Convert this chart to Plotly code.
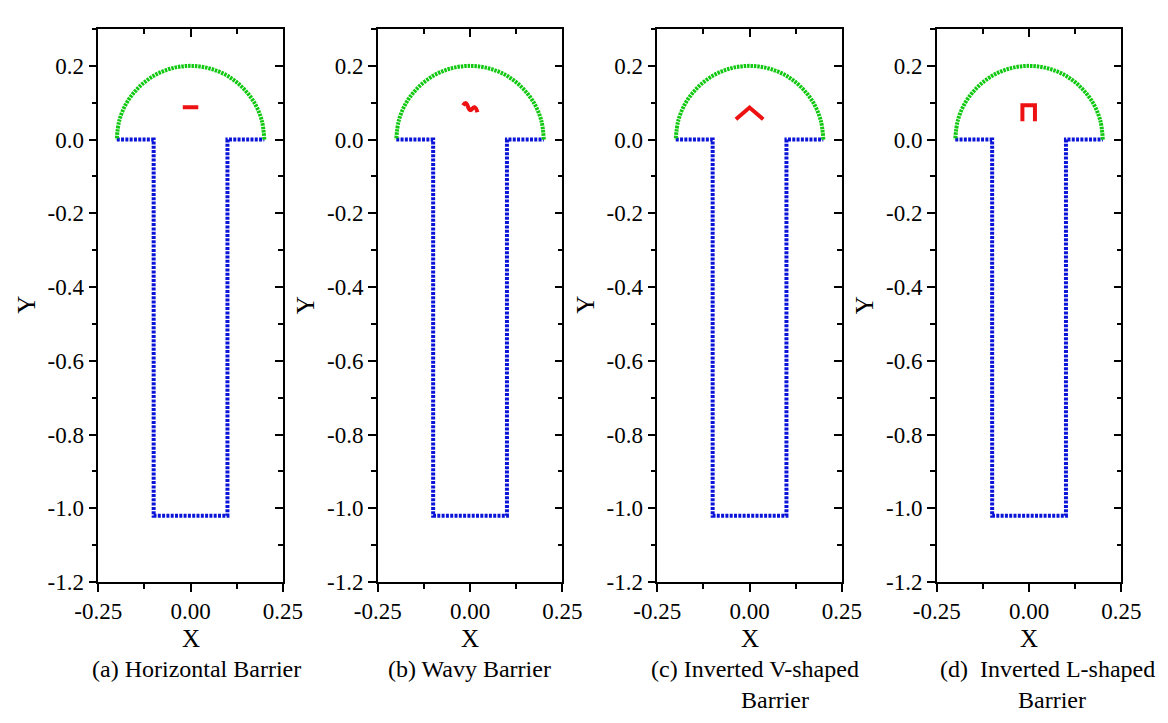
import plotly.graph_objects as go

# ---------------- data ----------------
# wall (blue) boundary vertices
wall_x = [-0.2, -0.1, -0.1, 0.1, 0.1, 0.2]
wall_y = [0.0, 0.0, -1.02, -1.02, 0.0, 0.0]
# free-surface dome (green) points, read along the semicircle
dome_x = [0.2, 0.193, 0.173, 0.141, 0.1, 0.052, 0.0, -0.052, -0.1, -0.141, -0.173, -0.193, -0.2]
dome_y = [0.0, 0.052, 0.1, 0.141, 0.173, 0.193, 0.2, 0.193, 0.173, 0.141, 0.1, 0.052, 0.0]
# barriers (red)
barrier_a_x = [-0.021, 0.021]
barrier_a_y = [0.088, 0.088]
barrier_b_x = [-0.019, -0.011, 0.0, 0.012, 0.020]
barrier_b_y = [0.093, 0.099, 0.080, 0.088, 0.074]
barrier_c_x = [-0.037, 0.0, 0.037]
barrier_c_y = [0.055, 0.087, 0.055]
barrier_d_x = [-0.018, -0.018, 0.016, 0.016]
barrier_d_y = [0.050, 0.093, 0.093, 0.050]
barriers = [(barrier_a_x, barrier_a_y, "spline"), (barrier_b_x, barrier_b_y, "spline"),
            (barrier_c_x, barrier_c_y, "linear"), (barrier_d_x, barrier_d_y, "linear")]

x_tickvals = [-0.25, 0.0, 0.25]
x_ticktext = ["-0.25", "0.00", "0.25"]
y_tickvals = [-1.2, -1.0, -0.8, -0.6, -0.4, -0.2, 0.0, 0.2]
y_ticktext = ["-1.2", "-1.0", "-0.8", "-0.6", "-0.4", "-0.2", "0.0", "0.2"]

captions_1 = ["(a) Horizontal Barrier", "(b) Wavy Barrier", "(c) Inverted V-shaped", "(d)  Inverted L-shaped"]
captions_2 = ["", "", "Barrier", "Barrier"]

# ---------------- layout geometry ----------------
W, H = 1168, 723
panel_left = [98.3, 377.8, 657.3, 936.8]
panel_w = 184.5
top_px, bot_px = 29, 582
cap1_cx = [196, 469, 755, 1047]
cap2_cx = [None, None, 775, 1052]

FONT = "Liberation Serif, Times New Roman, serif"
BLUE = "#0a14d8"
GREEN = "#11c811"
RED = "#ee1111"

fig = go.Figure()
ydom = [1 - bot_px / H, 1 - top_px / H]

annotations = []
for i in range(4):
    n = i + 1
    xa = "x" if n == 1 else f"x{n}"
    ya = "y" if n == 1 else f"y{n}"
    m = n + 4
    fig.add_trace(go.Scatter(x=wall_x, y=wall_y, mode="lines", xaxis=xa, yaxis=ya,
                             line=dict(color=BLUE, width=4, dash="3px,1.3px"),
                             showlegend=False, hoverinfo="skip"))
    fig.add_trace(go.Scatter(x=dome_x, y=dome_y, mode="lines", xaxis=xa, yaxis=ya,
                             line=dict(color=GREEN, width=4, dash="2.5px,0.9px", shape="spline"),
                             showlegend=False, hoverinfo="skip"))
    bx, by, shp = barriers[i]
    fig.add_trace(go.Scatter(x=bx, y=by, mode="lines", xaxis=xa, yaxis=ya,
                             line=dict(color=RED, width=4, shape=shp, smoothing=1.3),
                             showlegend=False, hoverinfo="skip"))
    # invisible trace so the mirrored (top/right) frame axes get drawn
    fig.add_trace(go.Scatter(x=wall_x, y=wall_y, mode="lines", xaxis=f"x{m}", yaxis=f"y{m}",
                             line=dict(width=0, color="rgba(0,0,0,0)"),
                             showlegend=False, hoverinfo="skip"))

    xdom = [panel_left[i] / W, (panel_left[i] + panel_w) / W]
    common = dict(showline=True, linecolor="black", linewidth=1.5, showgrid=False,
                  zeroline=False, tickcolor="black", tickwidth=1.5, automargin=False)
    tf = dict(tickfont=dict(family=FONT, size=23, color="black"))
    xkey = "xaxis" if n == 1 else f"xaxis{n}"
    ykey = "yaxis" if n == 1 else f"yaxis{n}"
    fig.layout[xkey] = dict(domain=xdom, anchor=ya, range=[-0.25, 0.25],
                            tickmode="array", tickvals=x_tickvals, ticktext=x_ticktext,
                            ticks="outside", ticklen=8,
                            minor=dict(tick0=0, dtick=0.125, ticks="outside", ticklen=5,
                                       tickcolor="black", tickwidth=1.5),
                            **common, **tf)
    fig.layout[ykey] = dict(domain=ydom, anchor=xa, range=[-1.2, 0.3],
                            tickmode="array", tickvals=y_tickvals, ticktext=y_ticktext,
                            ticks="outside", ticklen=8,
                            minor=dict(tick0=0, dtick=0.1, ticks="outside", ticklen=5,
                                       tickcolor="black", tickwidth=1.5),
                            **common, **tf)
    # mirrored frame with inward ticks (top / right)
    fig.layout[f"xaxis{m}"] = dict(overlaying=xa, anchor=f"y{m}", side="top", range=[-0.25, 0.25],
                                   tickmode="array", tickvals=x_tickvals, showticklabels=False,
                                   ticks="inside", ticklen=8,
                                   minor=dict(tick0=0, dtick=0.125, ticks="inside", ticklen=5,
                                              tickcolor="black", tickwidth=1.5),
                                   **common)
    fig.layout[f"yaxis{m}"] = dict(overlaying=ya, anchor=f"x{m}", side="right", range=[-1.2, 0.3],
                                   tickmode="array", tickvals=y_tickvals, showticklabels=False,
                                   ticks="inside", ticklen=8,
                                   minor=dict(tick0=0, dtick=0.1, ticks="inside", ticklen=5,
                                              tickcolor="black", tickwidth=1.5),
                                   **common)

    cx = (panel_left[i] + panel_w / 2) / W
    annotations.append(dict(text="X", x=cx, y=1 - 638 / H, xref="paper", yref="paper",
                            showarrow=False, xanchor="center", yanchor="middle",
                            font=dict(family=FONT, size=25, color="black")))
    annotations.append(dict(text="Y", x=(panel_left[i] - 72.5) / W, y=1 - 305 / H,
                            xref="paper", yref="paper", textangle=-90,
                            showarrow=False, xanchor="center", yanchor="middle",
                            font=dict(family=FONT, size=25, color="black")))
    annotations.append(dict(text=captions_1[i], x=cap1_cx[i] / W, y=1 - 669 / H,
                            xref="paper", yref="paper", showarrow=False,
                            xanchor="center", yanchor="middle",
                            font=dict(family=FONT, size=24, color="black")))
    if captions_2[i]:
        annotations.append(dict(text=captions_2[i], x=cap2_cx[i] / W, y=1 - 700 / H,
                                xref="paper", yref="paper", showarrow=False,
                                xanchor="center", yanchor="middle",
                                font=dict(family=FONT, size=24, color="black")))

fig.update_layout(width=W, height=H, margin=dict(l=0, r=0, t=0, b=0, autoexpand=False),
                  paper_bgcolor="white", plot_bgcolor="white",
                  annotations=annotations, showlegend=False)

fig.write_html("out.html")
